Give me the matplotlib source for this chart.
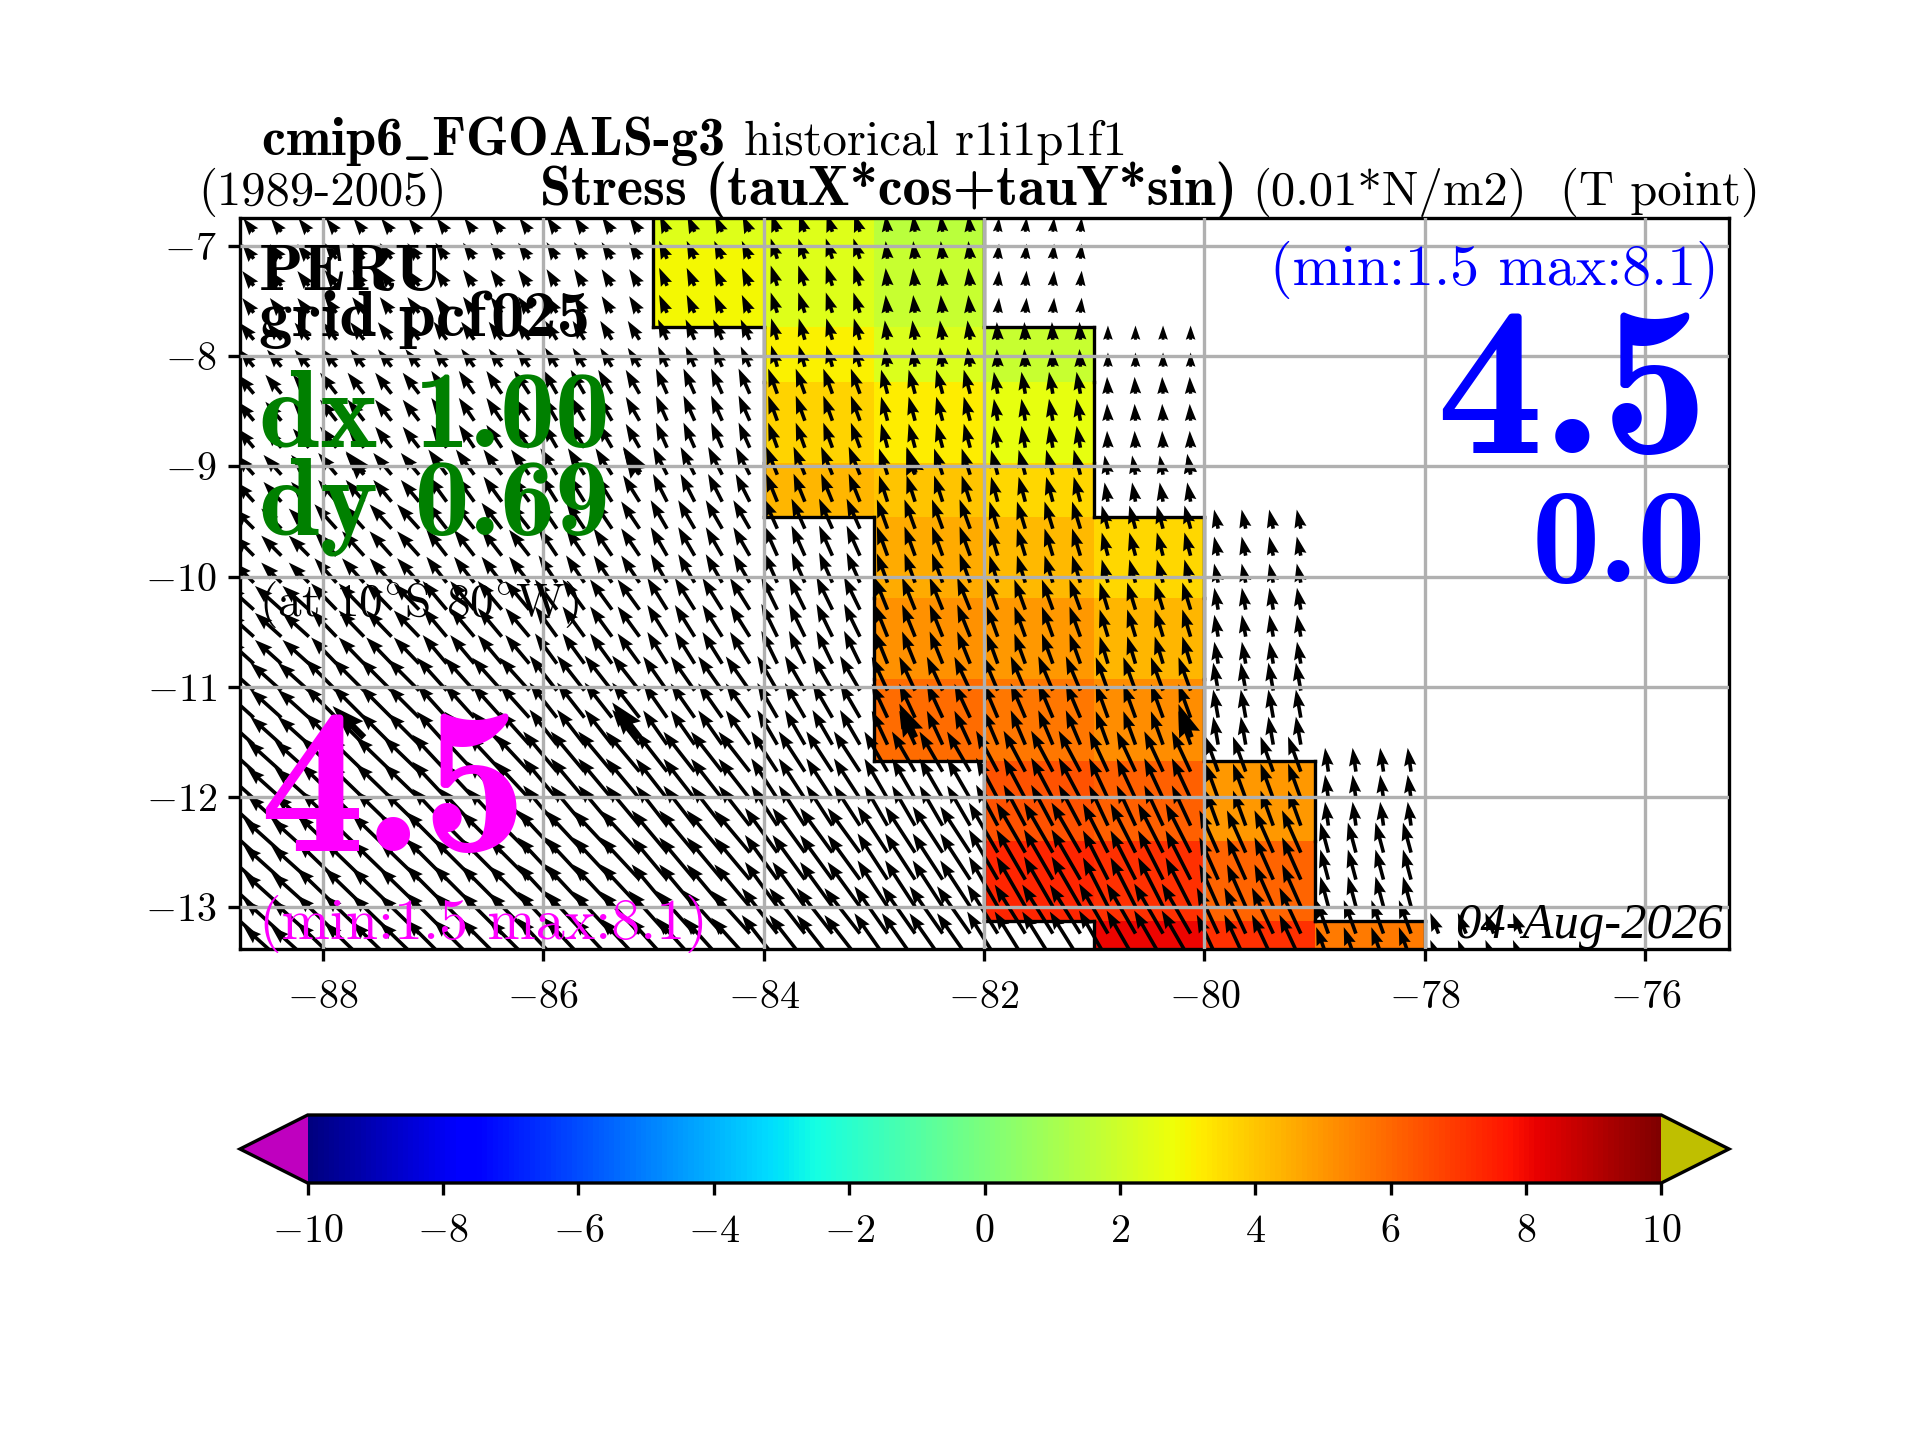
import numpy as np
import matplotlib
matplotlib.use("Agg")
import matplotlib.pyplot as plt
import warnings
warnings.filterwarnings("ignore")

nan = np.nan

plt.rcParams['font.family'] = ['cmr10']
plt.rcParams['mathtext.fontset'] = 'cm'
plt.rcParams['axes.formatter.use_mathtext'] = True
plt.rcParams['axes.unicode_minus'] = True
plt.rcParams['axes.linewidth'] = 1.0
plt.rcParams['grid.linewidth'] = 1.0
plt.rcParams['xtick.major.width'] = 1.0
plt.rcParams['ytick.major.width'] = 1.0
plt.rcParams['xtick.labelsize'] = 12
plt.rcParams['ytick.labelsize'] = 12
plt.rcParams['xtick.major.pad'] = 6

# coarse grid of the coloured cells (lat goes from north to south)
lon_edges = [-85, -84, -83, -82, -81, -80, -79, -78]
lat_edges = [-6.27, -7.0, -7.73, -8.23, -8.97, -9.46, -10.19, -10.93, -11.67, -12.40, -13.13, -13.86]

stress = [
    [2.40, 2.40, 1.50, nan, nan, nan, nan],
    [2.95, 2.40, 1.80, nan, nan, nan, nan],
    [nan, 3.07, 2.30, 1.80, nan, nan, nan],
    [nan, 3.72, 3.18, 2.60, nan, nan, nan],
    [nan, 4.37, 3.99, 3.61, nan, nan, nan],
    [nan, nan, 4.58, 4.26, 3.61, nan, nan],
    [nan, nan, 5.12, 4.96, 4.37, nan, nan],
    [nan, nan, 5.93, 5.66, 5.23, nan, nan],
    [nan, nan, nan, 6.42, 6.15, 4.96, nan],
    [nan, nan, nan, 7.39, 7.12, 6.04, nan],
    [nan, nan, nan, nan, 8.10, 7.12, 5.60],
]

# wind arrows, one row per coarse lat band, one column per degree from -89 to -78
arrow_lon_edges = [-89, -88, -87, -86, -85, -84, -83, -82, -81, -80, -79, -78, -77]
arrow_angle = [
    [38, 38, 36, 34, 24, 18, 6, -5, nan, nan, nan, nan],
    [38, 37, 35, 32, 24, 18, 6, -5, nan, nan, nan, nan],
    [40, 38, 36, 32, 24, 16, 8, 3, 0, nan, nan, nan],
    [40, 38, 34, 30, 24, 20, 15, 10, 3, nan, nan, nan],
    [42, 40, 36, 32, 27, 22, 18, 15, 10, nan, nan, nan],
    [45, 42, 38, 34, 30, 24, 20, 17, 15, 12, nan, nan],
    [48, 44, 40, 36, 32, 26, 22, 20, 17, 10, nan, nan],
    [48, 45, 42, 38, 35, 30, 25, 23, 20, 10, nan, nan],
    [48, 46, 43, 40, 38, 33, 30, 28, 25, 20, 8, nan],
    [48, 46, 45, 43, 40, 36, 33, 30, 27, 24, 15, nan],
    [48, 46, 45, 43, 42, 38, 35, 32, 30, 25, 20, 22],
]
arrow_speed = [
    [1.9, 1.9, 1.9, 2.0, 2.0, 2.1, 1.9, 1.6, nan, nan, nan, nan],
    [2.1, 2.2, 2.2, 2.2, 2.2, 2.4, 2.0, 1.7, nan, nan, nan, nan],
    [2.5, 2.5, 2.5, 2.5, 2.5, 2.5, 2.2, 2.0, 1.6, nan, nan, nan],
    [2.8, 3.0, 3.1, 3.1, 3.1, 3.0, 2.8, 2.5, 1.9, nan, nan, nan],
    [3.0, 3.2, 3.5, 3.5, 3.5, 3.4, 3.1, 2.9, 2.2, nan, nan, nan],
    [3.2, 3.7, 3.7, 3.7, 3.7, 3.7, 3.5, 3.2, 2.7, 2.2, nan, nan],
    [4.0, 4.1, 4.2, 4.2, 4.2, 4.1, 3.9, 3.6, 3.2, 2.5, nan, nan],
    [4.7, 5.0, 5.0, 5.0, 4.7, 4.5, 4.2, 4.2, 4.0, 3.2, nan, nan],
    [5.2, 5.6, 5.7, 5.9, 5.7, 5.4, 5.2, 5.2, 5.0, 4.2, 2.7, nan],
    [5.7, 6.2, 6.5, 6.5, 6.2, 6.2, 6.2, 6.5, 6.2, 5.2, 3.5, nan],
    [5.7, 6.2, 6.5, 6.5, 6.5, 6.5, 6.5, 6.5, 6.5, 5.7, 4.0, 2.5],
]

# the few arrows that come out heavier than the others
heavy_lons = [-87.625, -85.125, -82.625, -80.125]
heavy_lats = [-9.06, -11.46]

xticks = [-88, -86, -84, -82, -80, -78, -76]
yticks = [-7, -8, -9, -10, -11, -12, -13]
cbar_ticks = [-10, -8, -6, -4, -2, 0, 2, 4, 6, 8, 10]


def lookup(lons, lats):
    # coarse cell of every arrow
    i = np.searchsorted(-np.array(lat_edges), -np.asarray(lats)) - 1
    j = np.searchsorted(arrow_lon_edges, lons) - 1
    ang = np.radians(np.array(arrow_angle, dtype=float)[i, j])
    spd = np.array(arrow_speed, dtype=float)[i, j]
    return -spd * np.sin(ang), spd * np.cos(ang)


def coast_lines(ax):
    # black line wherever a coloured cell meets a blank one
    vals = np.array(stress, dtype=float)
    ok = ~np.isnan(vals)
    nr, nc = ok.shape
    for r in range(nr):
        for c in range(nc):
            if c + 1 < nc and ok[r, c] != ok[r, c + 1]:
                ax.plot([lon_edges[c + 1]] * 2, lat_edges[r:r + 2], color='k', lw=1.0, zorder=1.2)
            if c == 0 and ok[r, c]:
                ax.plot([lon_edges[0]] * 2, lat_edges[r:r + 2], color='k', lw=1.0, zorder=1.2)
            if c == nc - 1 and ok[r, c]:
                ax.plot([lon_edges[-1]] * 2, lat_edges[r:r + 2], color='k', lw=1.0, zorder=1.2)
            if r + 1 < nr and ok[r, c] != ok[r + 1, c]:
                ax.plot(lon_edges[c:c + 2], [lat_edges[r + 1]] * 2, color='k', lw=1.0, zorder=1.2)


def label(x, y, s, size, color='k', family='cmr10', style='normal'):
    # x, y in pixels of the final picture, y is the baseline
    fig.text(x / 1920, 1 - y / 1440, s, fontsize=size, color=color, family=family, style=style,
             ha='left', va='baseline')


fig = plt.figure(figsize=(8, 6), dpi=240)
ax = fig.add_axes([240 / 1920, 1 - 949 / 1440, 1489 / 1920, 731 / 1440])

cmap = plt.get_cmap('jet').copy()
cmap.set_under((0.75, 0, 0.75))
cmap.set_over((0.75, 0.75, 0))

mesh = ax.pcolormesh(lon_edges, lat_edges, np.ma.masked_invalid(stress), cmap=cmap, vmin=-10, vmax=10)
coast_lines(ax)

# arrows every quarter degree, tails in the middle of the sub cells
lon_q = np.arange(-88.875, -77, 0.25)
lat_q = -6.87 - 0.245 * np.arange(28)
X, Y = np.meshgrid(lon_q, lat_q)
U, V = lookup(X, Y)
keep = ~np.isnan(U)
ax.quiver(X[keep], Y[keep], U[keep], V[keep], angles='uv', units='inches', width=3.6 / 240,
          scale_units='inches', scale=27, headwidth=3.4, zorder=1.3)

hX, hY = np.meshgrid(heavy_lons, heavy_lats)
hU, hV = lookup(hX, hY)
ax.quiver(hX, hY, hU, hV, angles='uv', units='inches', width=6.5 / 240,
          scale_units='inches', scale=27, headwidth=3.4, zorder=1.3)

ax.set_xlim(-88.75, -75.24)
ax.set_ylim(-13.38, -6.745)
ax.set_xticks(xticks)
ax.set_yticks(yticks)
ax.grid(True)
ax.set_axisbelow(False)
for gl in ax.get_xgridlines() + ax.get_ygridlines():
    gl.set_zorder(1.5)

cax = fig.add_axes([240 / 1920, 1 - 1183 / 1440, 1489 / 1920, 68 / 1440])
cb = fig.colorbar(mesh, cax=cax, orientation='horizontal', extend='both')
cb.set_ticks(cbar_ticks)

# titles
label(261, 155, r'cmip6$\_$FGOALS-g3', 16.3, family='cmb10')
label(744, 155, 'historical r1i1p1f1', 14.6)
label(198, 205, '(1989-2005)', 14.6)
label(540, 205, 'Stress (tauX*cos+tauY*sin)', 16.8, family='cmb10')
label(1252, 205, '(0.01*N/m2)', 14.6)
label(1560, 205, '(T point)', 14.6)

# labels on the map
label(259, 290, 'PERU', 19.5, family='cmb10')
label(259, 336, 'grid pcf', 20, family='cmb10')
label(490, 336, '025', 20, family='cmb10')
label(259, 447, 'dx 1.00', 33, color='green', family='cmb10')
label(259, 535, 'dy 0.69', 33, color='green', family='cmb10')
label(259, 616, r'(at 10$^{\circ}$S 80$^{\circ}$W)', 14.2)
label(259, 851, '4.5', 63, color='magenta', family='cmb10')
label(259, 939, '(min:1.5 max:8.1)', 17.4, color='magenta')
label(1270, 285, '(min:1.5 max:8.1)', 17.4, color='blue')
label(1436, 453, '4.5', 64, color='blue', family='cmb10')
label(1532, 582, '0.0', 41, color='blue', family='cmb10')
label(1455, 938, '04-Aug-2026', 15.2, family='Liberation Serif', style='italic')

fig.savefig('out.png', dpi=240)
